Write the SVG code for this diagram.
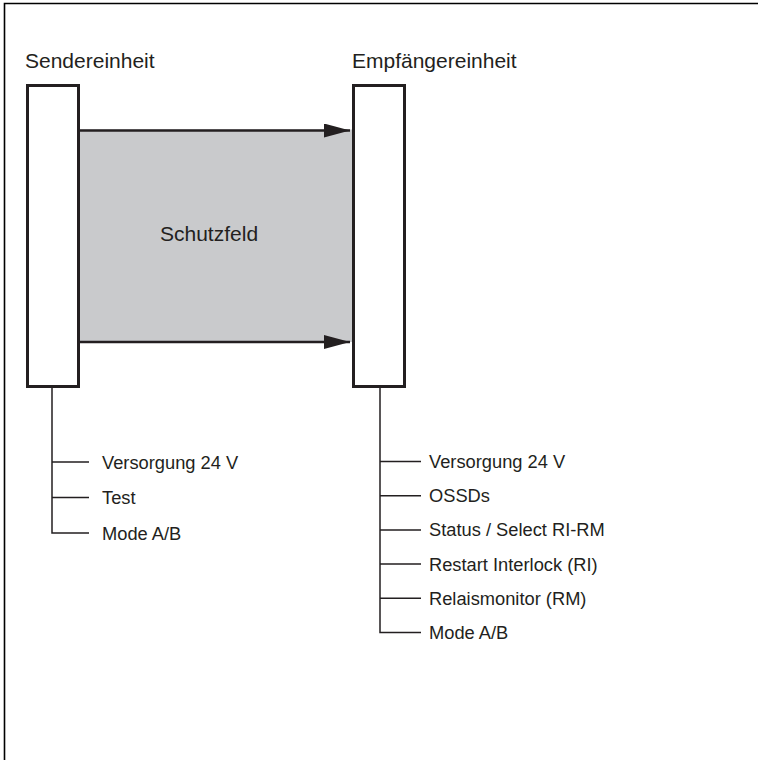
<svg xmlns="http://www.w3.org/2000/svg" width="758" height="760" viewBox="0 0 758 760">
  <defs>
    <style>
      .t { font-family: "Liberation Sans", Arial, sans-serif; fill: #231f20; }
      .title { font-size: 21px; }
      .lbl { font-size: 18.3px; }
      .box { fill: #ffffff; stroke: #231f20; stroke-width: 3; }
      .ln { stroke: #231f20; stroke-width: 1.5; fill: none; }
      .arr { stroke: #231f20; stroke-width: 2.5; fill: none; }
    </style>
    <marker id="ah" markerUnits="userSpaceOnUse" markerWidth="28" markerHeight="16" refX="26" refY="7" orient="auto">
      <path d="M0,0 L26,7 L0,14 Z" fill="#231f20"/>
    </marker>
  </defs>
  <rect width="758" height="760" fill="#ffffff"/>
  <!-- outer frame (top and left) -->
  <path d="M4.5,760 V3.5 H758" fill="none" stroke="#000" stroke-width="1.6"/>

  <g id="schutzfeld">
    <rect x="80" y="129.5" width="272" height="212.5" fill="#c9cacc"/>
    <text class="t title" x="160" y="241">Schutzfeld</text>
  </g>

  <g id="connectors">
    <line class="arr" x1="80" y1="130.5" x2="350" y2="130.5" marker-end="url(#ah)"/>
    <line class="arr" x1="80" y1="342" x2="350" y2="342" marker-end="url(#ah)"/>
    <path class="ln" d="M52,388 V533 H89 M52,462 H89 M52,497.5 H89"/>
    <path class="ln" d="M380,388 V632.5 H421 M380,461.5 H421 M380,495.7 H421 M380,529.9 H421 M380,564.1 H421 M380,598.3 H421"/>
  </g>

  <g id="sender">
    <text class="t title" x="25" y="67.5">Sendereinheit</text>
    <rect class="box" x="27.5" y="85.5" width="51" height="301"/>
  </g>

  <g id="empfaenger">
    <text class="t title" x="352" y="67.5">Empfängereinheit</text>
    <rect class="box" x="353.5" y="85.5" width="51" height="301"/>
  </g>

  <g id="sender-signals">
    <text class="t lbl" x="102" y="468.5">Versorgung 24 V</text>
    <text class="t lbl" x="102" y="504">Test</text>
    <text class="t lbl" x="102" y="539.5">Mode A/B</text>
  </g>

  <g id="empfaenger-signals">
    <text class="t lbl" x="429" y="468">Versorgung 24 V</text>
    <text class="t lbl" x="429" y="502.2">OSSDs</text>
    <text class="t lbl" x="429" y="536.4">Status / Select RI-RM</text>
    <text class="t lbl" x="429" y="570.6">Restart Interlock (RI)</text>
    <text class="t lbl" x="429" y="604.8">Relaismonitor (RM)</text>
    <text class="t lbl" x="429" y="639">Mode A/B</text>
  </g>
</svg>
